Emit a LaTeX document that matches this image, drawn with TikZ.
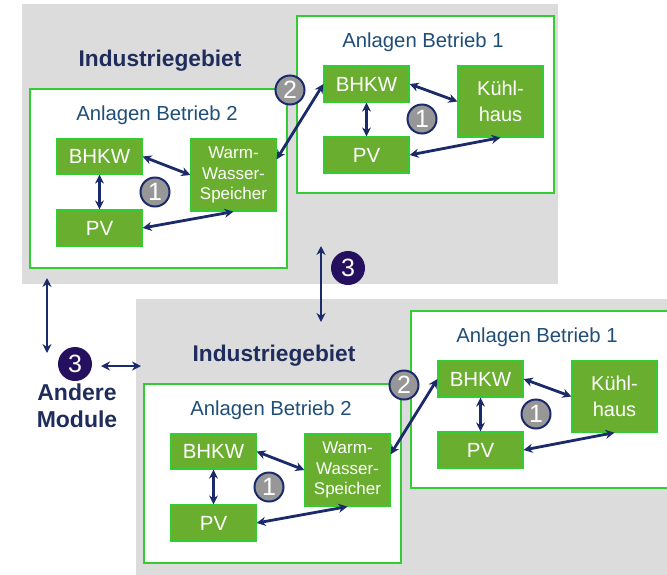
\documentclass[tikz,border=0pt]{standalone}
\usepackage{fontspec}
\setmainfont{Liberation Sans}
\usetikzlibrary{arrows.meta}
\definecolor{grayarea}{HTML}{DCDCDC}
\definecolor{boxgreen}{HTML}{6AAE2F}
\definecolor{linegreen}{HTML}{33CC33}
\definecolor{darknavy}{HTML}{1F2D5C}
\definecolor{textblue}{HTML}{1F4E79}
\definecolor{arrownavy}{HTML}{1B2A6B}
\definecolor{circgray}{HTML}{979797}
\definecolor{circdark}{HTML}{25105F}
\tikzset{
  unit/.style={draw=linegreen, line width=1.2pt, fill=boxgreen, text=white,
    minimum width=85pt, minimum height=36pt, inner sep=0pt, align=center,
    font=\fontsize{20.5}{24}\selectfont},
  betrieb/.style={draw=linegreen, line width=1.8pt, fill=white},
  title/.style={text=darknavy, anchor=base, font=\bfseries\fontsize{22.7}{27}\selectfont},
  subtitle/.style={text=textblue, anchor=base, font=\fontsize{20.3}{24}\selectfont},
  link/.style={arrownavy, line width=2.8pt, {Stealth[length=9pt,width=9pt]}-{Stealth[length=9pt,width=9pt]}},
  num/.style={circle, draw=arrownavy, line width=2pt, fill=circgray, text=white,
    minimum size=29pt, inner sep=0pt, font=\fontsize{25}{25}\selectfont},
  numdark/.style={circle, fill=circdark, text=white, minimum size=34pt,
    inner sep=0pt, font=\fontsize{25}{25}\selectfont},
}

\begin{document}
\begin{tikzpicture}[x=1pt,y=-1pt]
  \clip (0,0) rectangle (667,574);
  \fill[white] (0,0) rectangle (667,574);
  % two modules, the second one shifted
  \foreach \m/\dx/\dy in {a/0/0,b/114/295}{
    \begin{scope}[shift={(\dx,\dy)}]
      \fill[grayarea] (22,4) rectangle (558,284);
      \node[title] (\m-title) at (160,66) {Industriegebiet};
      % Anlagen Betrieb 1
      \draw[betrieb] (297,16) rectangle (554,193);
      \node[subtitle] (\m-sub1) at (423,47) {Anlagen Betrieb 1};
      \node[unit] (\m-bhkw1) at (366.5,84) {BHKW};
      \node[unit] (\m-pv1) at (366.5,155) {PV};
      \node[unit, minimum height=71pt, font=\fontsize{20}{26}\selectfont]
        (\m-kuehl) at (500.5,101.5) {Kühl-\\haus};
      \draw[link] (\m-bhkw1.south) -- (\m-pv1.north);
      \draw[link] (\m-bhkw1.east) -- (\m-kuehl.west);
      \draw[link] (\m-pv1.east) -- (\m-kuehl.south);
      \node[num] (\m-one1) at (422,119) {1};
      % Anlagen Betrieb 2
      \draw[betrieb] (30,89) rectangle (287,268);
      \node[subtitle] (\m-sub2) at (157,120) {Anlagen Betrieb 2};
      \node[unit, minimum height=35pt] (\m-bhkw2) at (99.5,156.5) {BHKW};
      \node[unit, minimum height=72pt, font=\fontsize{17}{20.5}\selectfont]
        (\m-warm) at (233.5,175) {Warm-\\Wasser-\\Speicher};
      \node[unit] (\m-pv2) at (99.5,228) {PV};
      \draw[link] (\m-bhkw2.south) -- (\m-pv2.north);
      \draw[link] (\m-bhkw2.east) -- (\m-warm.west);
      \draw[link] (\m-pv2.east) -- (\m-warm.south);
      \node[num] (\m-one2) at (155,192) {1};
      % between the two Betriebe
      \draw[link] (\m-warm.20) -- (\m-bhkw1.west);
      \node[num] (\m-two) at (290,90) {2};
    \end{scope}
  }
  % links to the next module
  \coordinate (linktop) at (321,246);
  \coordinate (linkbot) at (321,322);
  \draw[link] (linktop) -- (linkbot);
  \node[numdark] (three) at (348,268) {3};
  % other modules
  \node[title, anchor=center, align=center, font=\bfseries\fontsize{23}{27}\selectfont]
    (andere) at (77,406) {Andere\\Module};
  \node[numdark] (threeleft) at (75,364) {3};
  \coordinate (lefttop) at (47,278);
  \coordinate (leftbot) at (47,353);
  \draw[link] (lefttop) -- (leftbot);
  \coordinate (sidel) at (101,366);
  \coordinate (sider) at (141,366);
  \draw[link] (sidel) -- (sider);
\end{tikzpicture}
\end{document}
